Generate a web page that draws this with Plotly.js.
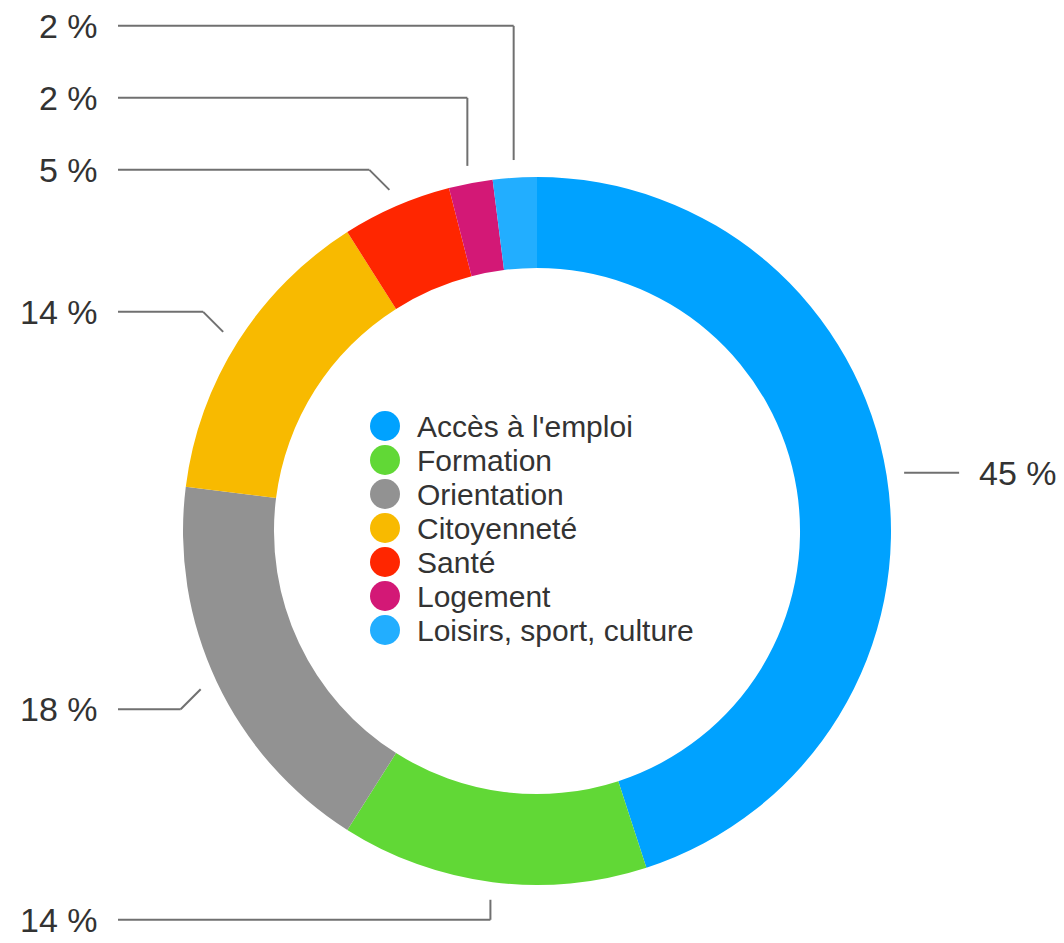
<!DOCTYPE html>
<html><head><meta charset="utf-8">
<script src="https://cdn.plot.ly/plotly-3.0.1.min.js"></script>
<style>html,body{margin:0;padding:0;background:#fff}</style>
</head><body><div id="chart" style="width:1064px;height:943px"></div>
<script>
// ---- data ----
const categories = ["Accès à l'emploi", "Formation", "Orientation", "Citoyenneté", "Santé", "Logement", "Loisirs, sport, culture"];
const values = [45, 14, 18, 14, 5, 2, 2];
const colors = ["#00A2FF", "#61D836", "#929292", "#F8BA00", "#FF2600", "#D31876", "#22AEFF"];

// ---- layout constants (px) ----
const W = 1064, H = 943;
const CX = 537, CY = 531, R = 354, HOLE = 0.743;
const ANCHOR_R = R * 1.05;
const ELBOW = 20;
const LEFT_LINE_END = 118, LABEL_GAP = 18, RIGHT_LINE_LEN = 55;
const MIN_LABEL_GAP = 72;
const TEXT_COLOR = "#333333", LINE_COLOR = "#707070";
const FONT = "Liberation Sans, Arial, Helvetica, sans-serif";
const LEG_CX = 385, LEG_Y0 = 426, LEG_DY = 34, LEG_R = 15, LEG_TX = 415;

const px = x => x / W;
const py = y => 1 - y / H;

const total = values.reduce((a, b) => a + b, 0);
let cum = 0;
const items = values.map((v, i) => {
  const mid = (cum + v / 2) / total;
  cum += v;
  const a = mid * 2 * Math.PI;
  const s = Math.sin(a), c = Math.cos(a);
  const ax = CX + ANCHOR_R * s, ay = CY - ANCHOR_R * c;
  const left = ax < CX;
  const top = ay < CY;
  let kind, ex, ey;
  if (Math.abs(s) > Math.cos(15 * Math.PI / 180)) { kind = "h"; ex = ax; ey = ay; }
  else if (Math.abs(c) > Math.cos(15 * Math.PI / 180)) { kind = "v"; ex = ax; ey = ay + (top ? -ELBOW : ELBOW); }
  else { kind = "d"; ex = ax + (left ? -ELBOW : ELBOW); ey = ay + (top ? -ELBOW : ELBOW); }
  return { i, v, ax, ay, left, top, kind, ex, ey, ly: ey };
});

// resolve collisions for top-left labels (push upward)
const topLeft = items.filter(d => d.left && d.top).sort((p, q) => q.ly - p.ly);
for (let k = 1; k < topLeft.length; k++) {
  const prev = topLeft[k - 1], cur = topLeft[k];
  if (prev.ly - cur.ly < MIN_LABEL_GAP) {
    cur.ly = prev.ly - MIN_LABEL_GAP;
    cur.ex = cur.ax; cur.ey = cur.ly; // vertical leg up to label row
  }
}

const shapes = [];
const annotations = [];
const seg = (x0, y0, x1, y1) => shapes.push({
  type: "line", xref: "paper", yref: "paper",
  x0: px(x0), y0: py(y0), x1: px(x1), y1: py(y1),
  line: { color: LINE_COLOR, width: 2 }
});

items.forEach(d => {
  const txt = values[d.i] + " %";
  if (d.left) {
    if (d.kind !== "h") seg(d.ax, d.ay, d.ex, d.ey);
    seg(d.ex, d.ey, LEFT_LINE_END, d.ey);
    annotations.push({ xref: "paper", yref: "paper", x: px(LEFT_LINE_END - LABEL_GAP), y: py(d.ey),
      xanchor: "right", yanchor: "middle", showarrow: false, text: txt,
      font: { family: FONT, size: 34, color: TEXT_COLOR } });
  } else {
    if (d.kind !== "h") seg(d.ax, d.ay, d.ex, d.ey);
    const endX = d.ex + RIGHT_LINE_LEN;
    seg(d.ex, d.ey, endX, d.ey);
    annotations.push({ xref: "paper", yref: "paper", x: px(endX + LABEL_GAP), y: py(d.ey),
      xanchor: "left", yanchor: "middle", showarrow: false, text: txt,
      font: { family: FONT, size: 34, color: TEXT_COLOR } });
  }
});

// custom legend with circle markers
categories.forEach((name, i) => {
  const yc = LEG_Y0 + i * LEG_DY;
  shapes.push({ type: "circle", xref: "paper", yref: "paper",
    x0: px(LEG_CX - LEG_R), x1: px(LEG_CX + LEG_R), y0: py(yc + LEG_R), y1: py(yc - LEG_R),
    fillcolor: colors[i], line: { width: 0 } });
  annotations.push({ xref: "paper", yref: "paper", x: px(LEG_TX), y: py(yc),
    xanchor: "left", yanchor: "middle", showarrow: false, text: name,
    font: { family: FONT, size: 30, color: TEXT_COLOR } });
});

const trace = {
  type: "pie",
  labels: categories,
  values: values,
  sort: false,
  direction: "clockwise",
  rotation: 0,
  hole: HOLE,
  textinfo: "none",
  textposition: "none",
  marker: { colors: colors, line: { width: 0 } },
  domain: { x: [px(CX - R), px(CX + R)], y: [py(CY + R), py(CY - R)] },
  showlegend: false,
  hoverinfo: "label+percent"
};

const layout = {
  width: W, height: H,
  margin: { l: 0, r: 0, t: 0, b: 0 },
  paper_bgcolor: "#ffffff",
  plot_bgcolor: "#ffffff",
  showlegend: false,
  shapes: shapes,
  annotations: annotations
};

Plotly.newPlot("chart", [trace], layout, { displayModeBar: false, staticPlot: true });
</script>
</body></html>
